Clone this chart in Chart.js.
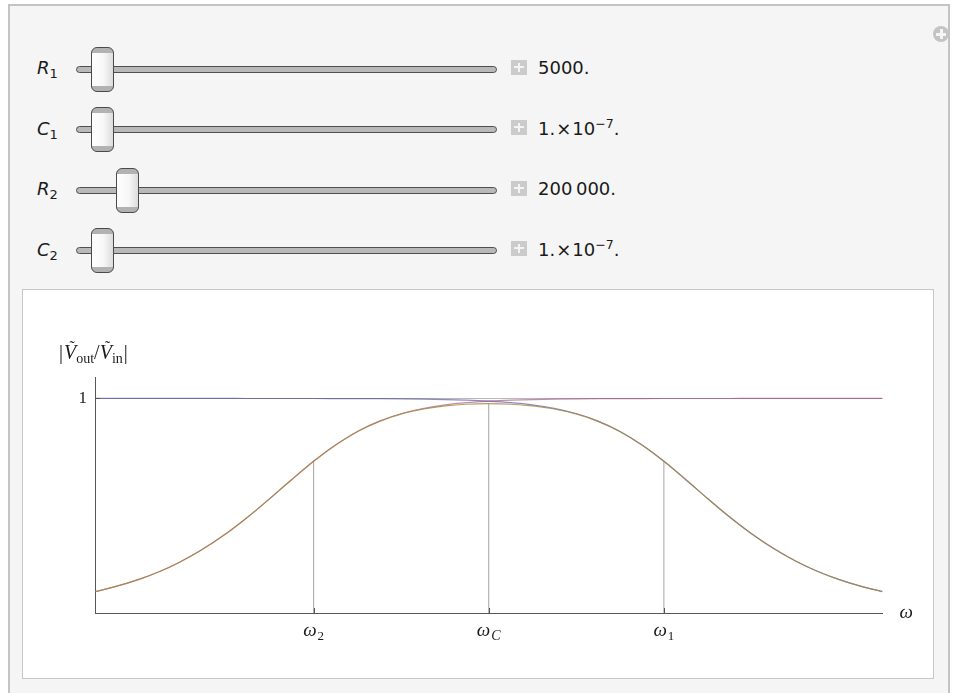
<!DOCTYPE html>
<html>
<head>
<meta charset="utf-8">
<script src="https://cdn.jsdelivr.net/npm/chart.js@4.4.1/dist/chart.umd.min.js"></script>
<style>
  html, body { margin: 0; padding: 0; width: 954px; height: 693px; overflow: hidden; background: #ffffff;
               font-family: "DejaVu Sans", "Noto Sans", sans-serif; color: #1a1a1a; }
  #panel { position: absolute; left: 8px; top: 4px; width: 942px; height: 700px; box-sizing: border-box;
           border: 2px solid #c4c4c4; background: #f5f5f5; }
  .label { position: absolute; left: 37px; height: 26px; line-height: 26px; font-size: 18px; font-style: italic; white-space: nowrap; }
  .label sub { font-size: 13px; font-style: normal; vertical-align: -4px; line-height: 0; margin-left: 0px; }
  .track { position: absolute; left: 76px; width: 421px; height: 7px; box-sizing: border-box;
           border: 1px solid #4f4f4f; border-radius: 4px; background: #b9b9b9; }
  .thumb { position: absolute; width: 23px; height: 45px; box-sizing: border-box; border: 1px solid #4a4a4a; border-radius: 6px;
           background:
             linear-gradient(to bottom, #b2b2b2 0, #b2b2b2 5px, rgba(0,0,0,0) 5px, rgba(0,0,0,0) calc(100% - 5px), #b2b2b2 calc(100% - 5px)),
             linear-gradient(to right, #fefefe 0%, #f7f7f7 55%, #dcdcdc 100%); }
  .plus { position: absolute; left: 511px; width: 16px; height: 15px; background: #cbcbcb; }
  .plus::before, .plus::after { content: ""; position: absolute; background: #f4f4f4; }
  .plus::before { left: 7px; top: 3px; width: 2px; height: 9px; }
  .plus::after { left: 3px; top: 6px; width: 10px; height: 2px; }
  .value { position: absolute; left: 538px; height: 26px; line-height: 26px; font-size: 18px; white-space: nowrap; }
  .value .x { margin: 0 1px; }
  .value sup { font-size: 12.5px; vertical-align: 7px; line-height: 0; }
  #opener { position: absolute; left: 933px; top: 26px; width: 16px; height: 16px; border-radius: 50%; background: #c4c4c4; }
  #opener::before, #opener::after { content: ""; position: absolute; background: #f5f5f5; }
  #opener::before { left: 6.5px; top: 3px; width: 3px; height: 10px; }
  #opener::after { left: 3px; top: 6.5px; width: 10px; height: 3px; }
  #plotbox { position: absolute; left: 22px; top: 289px; width: 912px; height: 390px; box-sizing: border-box;
             border: 1px solid #c8c8c8; background: #ffffff; }
  #chart { position: absolute; left: 23px; top: 290px; }
</style>
</head>
<body>
<div id="panel"></div>
<div id="opener"></div>
<div id="controls"></div>
<div id="plotbox"></div>
<canvas id="chart" width="910" height="388"></canvas>

<script>
// Circuit parameters shown on the controls
const paramSymbols = ["R", "C", "R", "C"];
const paramIndices = ["1", "1", "2", "2"];
const paramValues  = ["5000.", "1.<span class=\"x\">\u00d7</span>10<sup>\u22127</sup>.", "200\u2009000.", "1.<span class=\"x\">\u00d7</span>10<sup>\u22127</sup>."];

// Angular frequency samples (log axis) and the three response magnitudes
const omega = [5, 6, 8, 10, 12, 15, 20, 25, 30, 40, 50, 60, 80, 100, 130, 160, 200, 250, 316, 400,
               500, 630, 800, 1000, 1250, 1600, 2000, 2500, 3200, 4000, 5000, 6300, 8000, 10000, 12500, 16000, 20000];
const lowPassGain = [1.0, 1.0, 1.0, 1.0, 1.0, 1.0, 1.0, 0.9999, 0.9999, 0.9998, 0.9997, 0.9996, 0.9992, 0.9988, 0.9979,
                     0.9968, 0.9950, 0.9923, 0.9877, 0.9806, 0.9701, 0.9538, 0.9285, 0.8944, 0.8480, 0.7809, 0.7071,
                     0.6247, 0.5300, 0.4472, 0.3714, 0.3026, 0.2425, 0.1961, 0.1580, 0.1240, 0.0995];
const highPassGain = [0.0995, 0.1191, 0.1580, 0.1961, 0.2334, 0.2873, 0.3714, 0.4472, 0.5145, 0.6247, 0.7071, 0.7682,
                      0.8480, 0.8944, 0.9333, 0.9545, 0.9701, 0.9806, 0.9877, 0.9923, 0.9950, 0.9969, 0.9981, 0.9988,
                      0.9992, 0.9995, 0.9997, 0.9998, 0.9999, 0.9999, 1.0, 1.0, 1.0, 1.0, 1.0, 1.0, 1.0];
const bandPassGain = [0.0995, 0.1191, 0.1580, 0.1961, 0.2334, 0.2873, 0.3714, 0.4472, 0.5145, 0.6246, 0.7069, 0.7679,
                      0.8473, 0.8933, 0.9313, 0.9514, 0.9652, 0.9730, 0.9756, 0.9730, 0.9652, 0.9508, 0.9267, 0.8933,
                      0.8473, 0.7805, 0.7069, 0.6246, 0.5299, 0.4472, 0.3714, 0.3026, 0.2425, 0.1961, 0.1580, 0.1240, 0.0995];

// Characteristic frequencies: ω2, ωC, ω1, and the band-pass gain at each
const markerOmega  = [50, 316.2, 2000];
const markerGain   = [0.7069, 0.9756, 0.7069];
const markerBase   = ["\u03c9", "\u03c9", "\u03c9"];
const markerSub    = ["2", "C", "1"];
const yTickValues  = [1];

// ---- controls ----
const rowCenters = [69, 129.5, 190, 250.5];
const thumbLeft  = [91, 91, 116, 91];
const controls = document.getElementById("controls");
paramSymbols.forEach((sym, i) => {
  const cy = rowCenters[i];
  controls.insertAdjacentHTML("beforeend",
    `<div class="label" style="top:${cy - 14}px">${sym}<sub>${paramIndices[i]}</sub></div>` +
    `<div class="track" style="top:${cy - 3.5}px"></div>` +
    `<div class="thumb" style="left:${thumbLeft[i]}px;top:${cy - 22.5}px"></div>` +
    `<div class="plus" style="top:${cy - 9.5}px"></div>` +
    `<div class="value" style="top:${cy - 14}px">${paramValues[i]}</div>`);
});

// ---- plot ----
const toPoints = (xs, ys) => xs.map((v, i) => ({ x: v, y: ys[i] }));
const markerPoints = [];
markerOmega.forEach((w, i) => {
  markerPoints.push({ x: w, y: 0 }, { x: w, y: markerGain[i] }, { x: w, y: null });
});

const SERIF = '"Liberation Serif", "DejaVu Serif", serif';

const annotations = {
  id: "annotations",
  afterDatasetsDraw(chart) {
    const { ctx } = chart;
    const xs = chart.scales.x, ys = chart.scales.y;
    ctx.save();
    // inward tick marks
    ctx.strokeStyle = "#555";
    ctx.lineWidth = 1;
    markerOmega.forEach(w => {
      const px = Math.round(xs.getPixelForValue(w)) + 0.5;
      ctx.beginPath(); ctx.moveTo(px, ys.bottom); ctx.lineTo(px, ys.bottom - 5); ctx.stroke();
    });
    yTickValues.forEach(v => {
      const py = Math.round(ys.getPixelForValue(v)) + 0.5;
      ctx.beginPath(); ctx.moveTo(xs.left, py); ctx.lineTo(xs.left + 5, py); ctx.stroke();
    });

    ctx.fillStyle = "#1a1a1a";
    ctx.textBaseline = "alphabetic";
    ctx.textAlign = "left";
    // tick labels with subscripts
    markerOmega.forEach((w, i) => {
      const px = xs.getPixelForValue(w);
      ctx.font = `italic 19px ${SERIF}`;
      const bw = ctx.measureText(markerBase[i]).width;
      const subFont = markerSub[i] === "C" ? `italic 14px ${SERIF}` : `13px ${SERIF}`;
      ctx.font = subFont;
      const sw = ctx.measureText(markerSub[i]).width;
      const x0 = px - (bw + sw + 1) / 2;
      const base = ys.bottom + 23;
      ctx.font = `italic 19px ${SERIF}`;
      ctx.fillText(markerBase[i], x0, base);
      ctx.font = subFont;
      ctx.fillText(markerSub[i], x0 + bw + 1, base + 4);
    });

    // horizontal axis name
    ctx.font = `italic 19px ${SERIF}`;
    ctx.textBaseline = "middle";
    ctx.fillText("\u03c9", xs.right + 17, ys.bottom);

    // vertical axis name |Ṽout/Ṽin|
    ctx.textBaseline = "alphabetic";
    let cx = 36;
    const by = 69;
    const piece = (txt, font, dy) => {
      ctx.font = font;
      ctx.fillText(txt, cx, by + (dy || 0));
      const w = ctx.measureText(txt).width;
      cx += w;
      return w;
    };
    const tildeV = () => {
      const x0 = cx;
      const w = piece("V", `italic 20px ${SERIF}`);
      ctx.font = `16px ${SERIF}`;
      ctx.textAlign = "center";
      ctx.fillText("\u02dc", x0 + w / 2 + 2, by - 7);
      ctx.textAlign = "left";
    };
    piece("|", `20px ${SERIF}`);
    cx += 1;
    tildeV();
    piece("out", `14px ${SERIF}`, 4);
    piece("/", `20px ${SERIF}`);
    tildeV();
    piece("in", `14px ${SERIF}`, 4);
    cx += 1;
    piece("|", `20px ${SERIF}`);
    ctx.restore();
  }
};

// Higher "order" is painted first, so the band-pass curve ends up on top
const curveStyle = (color, width, order) => ({
  borderColor: color, borderWidth: width, pointRadius: 0, fill: false,
  cubicInterpolationMode: "monotone", order: order
});

new Chart(document.getElementById("chart"), {
  type: "line",
  data: {
    datasets: [
      { label: "markers", data: markerPoints, borderColor: "#a3a3a3", borderWidth: 1,
        pointRadius: 0, spanGaps: false, tension: 0, order: 4 },
      Object.assign({ label: "low-pass", data: toPoints(omega, lowPassGain) }, curveStyle("rgba(61,61,153,0.6)", 1.2, 3)),
      Object.assign({ label: "high-pass", data: toPoints(omega, highPassGain) }, curveStyle("rgba(153,61,113,0.6)", 1.2, 2)),
      Object.assign({ label: "band-pass", data: toPoints(omega, bandPassGain) }, curveStyle("rgba(160,134,62,0.8)", 1.2, 1))
    ]
  },
  options: {
    responsive: false,
    animation: false,
    devicePixelRatio: 1,
    layout: { padding: { left: 0, top: 87, right: 50.5, bottom: 0 } },
    plugins: { legend: { display: false }, tooltip: { enabled: false } },
    scales: {
      x: {
        type: "logarithmic",
        min: 5, max: 20000,
        afterBuildTicks(scale) { scale.ticks = markerOmega.map(v => ({ value: v })); },
        afterFit(scale) { scale.height = 65; },
        ticks: { display: false },
        grid: { display: true, drawOnChartArea: false, drawTicks: false, color: "rgba(0,0,0,0)" },
        border: { display: true, color: "#575757", width: 1 }
      },
      y: {
        min: 0, max: 1.1,
        afterBuildTicks(scale) { scale.ticks = yTickValues.map(v => ({ value: v })); },
        afterFit(scale) { scale.width = 72; },
        ticks: { color: "#1a1a1a", padding: 8, font: { family: SERIF, size: 17 }, callback: v => String(v) },
        grid: { color: "#b9b9b9", lineWidth: 1, drawTicks: false },
        border: { display: true, color: "#575757", width: 1 }
      }
    }
  },
  plugins: [annotations]
});
</script>
</body>
</html>
